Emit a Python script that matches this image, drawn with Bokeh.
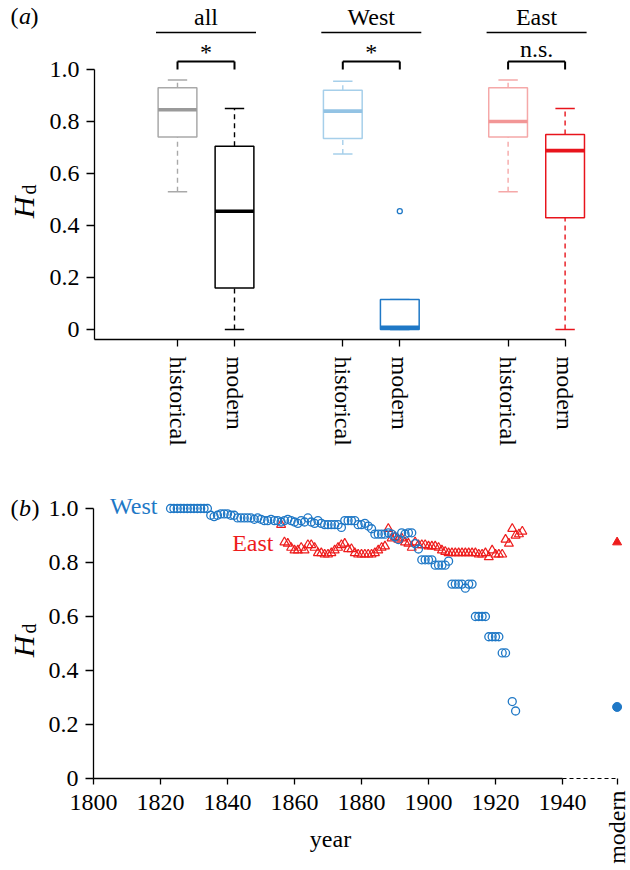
import math
from bokeh.plotting import figure
from bokeh.models import Range1d, FixedTicker, CustomJSTickFormatter, Label, ColumnDataSource
from bokeh.layouts import column
from bokeh.embed import file_html
from bokeh.resources import INLINE

FONT = "Liberation Serif"
FS = "24px"

# ---------------- panel (a) data ----------------
group_names = ["all", "West", "East"]
box_group = ["all", "all", "West", "West", "East", "East"]
box_period = ["historical", "modern", "historical", "modern", "historical", "modern"]
whisker_low = [0.53, 0.0, 0.675, 0.0, 0.53, 0.0]
quart_low = [0.74, 0.16, 0.735, 0.0, 0.74, 0.43]
medians = [0.845, 0.455, 0.84, 0.008, 0.80, 0.688]
quart_high = [0.93, 0.705, 0.92, 0.115, 0.93, 0.75]
whisker_high = [0.96, 0.85, 0.955, 0.115, 0.96, 0.85]
outlier_group = ["West"]
outlier_period = ["modern"]
outlier_value = [0.455]
significance = ["*", "*", "n.s."]
box_colors = ["#a9a9a9", "#000000", "#a6cfea", "#1f78c6", "#f5a8a8", "#e8141c"]
median_colors = ["#9a9a9a", "#000000", "#93c3e4", "#1f78c6", "#f29696", "#e8141c"]

# ---------------- panel (b) data ----------------
west_years = list(range(1823, 1924)) + [1925, 1926]
west_hd = ([1.0] * 12 +
           [0.975, 0.97, 0.975, 0.98, 0.98, 0.98, 0.975, 0.975,
            0.965, 0.965, 0.965, 0.965, 0.965, 0.96, 0.965,
            0.96, 0.955, 0.955, 0.96, 0.955, 0.955, 0.95, 0.955, 0.96, 0.955, 0.95, 0.945,
            0.955, 0.95, 0.965, 0.95, 0.945, 0.955, 0.945, 0.94, 0.94, 0.94, 0.94, 0.94, 0.93,
            0.955, 0.955, 0.955, 0.955, 0.94, 0.94, 0.945, 0.935, 0.925,
            0.905, 0.905, 0.905, 0.905, 0.91, 0.905, 0.895, 0.885, 0.91, 0.905, 0.91, 0.91,
            0.87, 0.85,
            0.81, 0.81, 0.81, 0.81,
            0.79, 0.79, 0.79, 0.79, 0.805,
            0.72, 0.72, 0.72, 0.72, 0.705, 0.72, 0.72,
            0.60, 0.60, 0.60, 0.60,
            0.525, 0.525, 0.525, 0.525,
            0.465, 0.465,
            0.285, 0.25])
east_years = list(range(1856, 1929))
east_hd = [0.94,
           0.875, 0.87, 0.855, 0.845, 0.845, 0.855, 0.845, 0.865, 0.865, 0.855,
           0.835, 0.835, 0.83, 0.83, 0.835, 0.845, 0.855, 0.865, 0.87, 0.85,
           0.85, 0.835, 0.83, 0.83, 0.83, 0.83, 0.83, 0.835, 0.845, 0.855,
           0.86, 0.925, 0.89, 0.895, 0.885, 0.89, 0.875, 0.87, 0.855, 0.875,
           0.865, 0.865, 0.865, 0.86, 0.86, 0.86, 0.855, 0.845, 0.84, 0.835,
           0.835, 0.835, 0.835, 0.835, 0.835, 0.835, 0.835, 0.835, 0.83, 0.83,
           0.835, 0.82, 0.845, 0.83, 0.83, 0.83, 0.885, 0.87, 0.925, 0.90,
           0.905, 0.915]
modern_label = "modern"
modern_west_hd = [0.265]
modern_east_hd = [0.875]
year_ticks = [1800, 1820, 1840, 1860, 1880, 1900, 1920, 1940]
hd_ticks = [0, 0.2, 0.4, 0.6, 0.8, 1.0]

WEST = "#1f78c6"
EAST = "#ee1c1c"

# ---------------- layout helpers (reference pixel -> data) ----------------
UNIT_A = 57.0
GROUP_STEP = 2.9
def ax(px): return 1 + (px - 177) / UNIT_A
def ay(py): return (329 - py) / 260.0
def bx(px): return 1800 + (px - 93) / 3.35
def by(py): return (778 - py) / 270.0

sub_index = {"historical": 0, "modern": 1}
def pos(g, per):
    return 1 + group_names.index(g) * GROUP_STEP + sub_index[per]

xpos = [pos(g, p) for g, p in zip(box_group, box_period)]
HALF_BOX = 0.34
HALF_CAP = 0.17

def style_axes(p):
    p.xgrid.visible = False
    p.ygrid.visible = False
    p.outline_line_color = None
    for a in (p.xaxis[0], p.yaxis[0]):
        a.axis_line_width = 1.3
        a.axis_line_color = "black"
        a.major_tick_line_color = "black"
        a.major_tick_line_width = 1.3
        a.major_tick_out = 8
        a.major_tick_in = 0
        a.minor_tick_line_color = None
        a.major_label_text_font = FONT
        a.major_label_text_font_size = FS
        a.major_label_text_color = "black"

def lab(p, x, y, text, size=FS, style="normal", align="center", baseline="middle",
        angle=0.0, color="black"):
    p.add_layout(Label(x=x, y=y, text=text, text_font=FONT, text_font_size=size,
                       text_font_style=style, text_align=align, text_baseline=baseline,
                       angle=angle, text_color=color))

hd_formatter = "return Math.abs(tick) < 1e-9 ? '0' : tick.toFixed(1);"

# ================= panel (a) =================
pA = figure(width=630, height=470, output_backend="svg", toolbar_location=None,
            x_range=Range1d(ax(0), ax(630)), y_range=Range1d(ay(470), ay(0)),
            min_border=0, background_fill_color="white", border_fill_color="white")
style_axes(pA)

srcA = ColumnDataSource(dict(
    x=xpos, lo=whisker_low, q1=quart_low, med=medians, q3=quart_high, hi=whisker_high,
    color=box_colors, mcolor=median_colors,
    bl=[x - HALF_BOX for x in xpos], br=[x + HALF_BOX for x in xpos],
    cl=[x - HALF_CAP for x in xpos], cr=[x + HALF_CAP for x in xpos]))

pA.segment(x0="x", y0="q3", x1="x", y1="hi", line_color="color", line_width=1.4,
           line_dash="5 4", source=srcA)
pA.segment(x0="x", y0="lo", x1="x", y1="q1", line_color="color", line_width=1.4,
           line_dash="5 4", source=srcA)
pA.segment(x0="cl", y0="hi", x1="cr", y1="hi", line_color="color", line_width=1.5, source=srcA)
pA.segment(x0="cl", y0="lo", x1="cr", y1="lo", line_color="color", line_width=1.5, source=srcA)
pA.vbar(x="x", width=2 * HALF_BOX, bottom="q1", top="q3", fill_color="white",
        line_color="color", line_width=1.5, source=srcA)
pA.segment(x0="bl", y0="med", x1="br", y1="med", line_color="mcolor", line_width=3.6,
           line_cap="butt", source=srcA)

ox = [pos(g, p) for g, p in zip(outlier_group, outlier_period)]
pA.scatter(x=ox, y=outlier_value, marker="circle", size=5, fill_color=None,
           line_color=WEST, line_width=1.3)

# headers, lines and significance brackets
gx = [pos(g, "historical") for g in group_names]
gm = [pos(g, "modern") for g in group_names]
gc = [(a + b) / 2 for a, b in zip(gx, gm)]
half_line = 50 / UNIT_A
pA.segment(x0=[c - half_line for c in gc], y0=[ay(32)] * 3,
           x1=[c + half_line for c in gc], y1=[ay(32)] * 3, line_color="black", line_width=1.5)
pA.segment(x0=gx, y0=[ay(61)] * 3, x1=gm, y1=[ay(61)] * 3, line_color="black", line_width=2)
pA.segment(x0=gx, y0=[ay(61)] * 3, x1=gx, y1=[ay(69)] * 3, line_color="black", line_width=2)
pA.segment(x0=gm, y0=[ay(61)] * 3, x1=gm, y1=[ay(69)] * 3, line_color="black", line_width=2)
for c, g, s in zip(gc, group_names, significance):
    lab(pA, c, ay(16), g)
    lab(pA, c, ay(51) if s == "*" else ay(48), s)

xa = pA.xaxis[0]
xa.fixed_location = ay(339)
xa.ticker = FixedTicker(ticks=xpos)
xa.bounds = (ax(94), xpos[-1])
xa.major_tick_out = 7
xa.major_label_orientation = "vertical"
xa.major_label_standoff = 10
xa.formatter = CustomJSTickFormatter(args=dict(pos=xpos, labs=box_period), code="""
for (let i = 0; i < pos.length; i++) { if (Math.abs(pos[i] - tick) < 1e-6) return labs[i]; }
return '';""")
ya = pA.yaxis[0]
ya.fixed_location = ax(94)
ya.ticker = FixedTicker(ticks=hd_ticks)
ya.bounds = (ay(339), 1.0)
ya.major_label_standoff = 7
ya.formatter = CustomJSTickFormatter(code=hd_formatter)

# panel letter and y label
lab(pA, ax(10), ay(15), "(", align="left")
lab(pA, ax(18.5), ay(15), "a", style="italic", align="left")
lab(pA, ax(30), ay(15), ")", align="left")
lab(pA, ax(23), ay(207), "H", size="30px", style="italic", baseline="alphabetic", angle=math.pi / 2)
lab(pA, ax(28), ay(189), "d", size="20px", baseline="alphabetic", angle=math.pi / 2)

# ================= panel (b) =================
MODERN_X = 1956.3
pB = figure(width=630, height=400, output_backend="svg", toolbar_location=None,
            x_range=Range1d(bx(0), bx(630)), y_range=Range1d(by(870), by(470)),
            min_border=0, background_fill_color="white", border_fill_color="white")
style_axes(pB)

pB.scatter(x=east_years, y=east_hd, marker="triangle", size=9, fill_color=None,
           line_color=EAST, line_width=1.2)
pB.scatter(x=west_years, y=west_hd, marker="circle", size=8, fill_color=None,
           line_color=WEST, line_width=1.3)
pB.scatter(x=[MODERN_X], y=modern_east_hd, marker="triangle", size=9, fill_color=EAST,
           line_color=EAST)
pB.scatter(x=[MODERN_X], y=modern_west_hd, marker="circle", size=9, fill_color=WEST,
           line_color=WEST)

xb = pB.xaxis[0]
xb.fixed_location = 0
xb.ticker = FixedTicker(ticks=year_ticks + [MODERN_X])
xb.axis_line_color = None
xb.major_tick_out = 6
xb.major_label_standoff = 10
xb.formatter = CustomJSTickFormatter(code="return tick > 1945 ? '' : tick.toFixed(0);")
yb = pB.yaxis[0]
yb.fixed_location = 1800
yb.ticker = FixedTicker(ticks=hd_ticks)
yb.bounds = (0, 1.0)
yb.major_label_standoff = 7
yb.formatter = CustomJSTickFormatter(code=hd_formatter)

# axis line: solid over the year span, dashed towards "modern"
pB.segment(x0=[year_ticks[0]], y0=[0], x1=[year_ticks[-1]], y1=[0],
           line_color="black", line_width=1.3)
pB.segment(x0=[year_ticks[-1]], y0=[0], x1=[MODERN_X], y1=[0],
           line_color="black", line_width=1.2, line_dash="4 3")

lab(pB, bx(157), by(505), "West", align="right", color=WEST)
lab(pB, bx(273), by(542), "East", align="right", color=EAST)
lab(pB, bx(330), by(838), "year")
lab(pB, MODERN_X, by(790), modern_label, align="right", angle=math.pi / 2)
lab(pB, bx(10), by(507), "(", align="left")
lab(pB, bx(18.5), by(507), "b", style="italic", align="left")
lab(pB, bx(31), by(507), ")", align="left")
lab(pB, bx(23), by(646), "H", size="30px", style="italic", baseline="alphabetic", angle=math.pi / 2)
lab(pB, bx(28), by(628), "d", size="20px", baseline="alphabetic", angle=math.pi / 2)

layout = column(pA, pB, spacing=0)
open("out.html", "w").write(file_html(layout, INLINE))
